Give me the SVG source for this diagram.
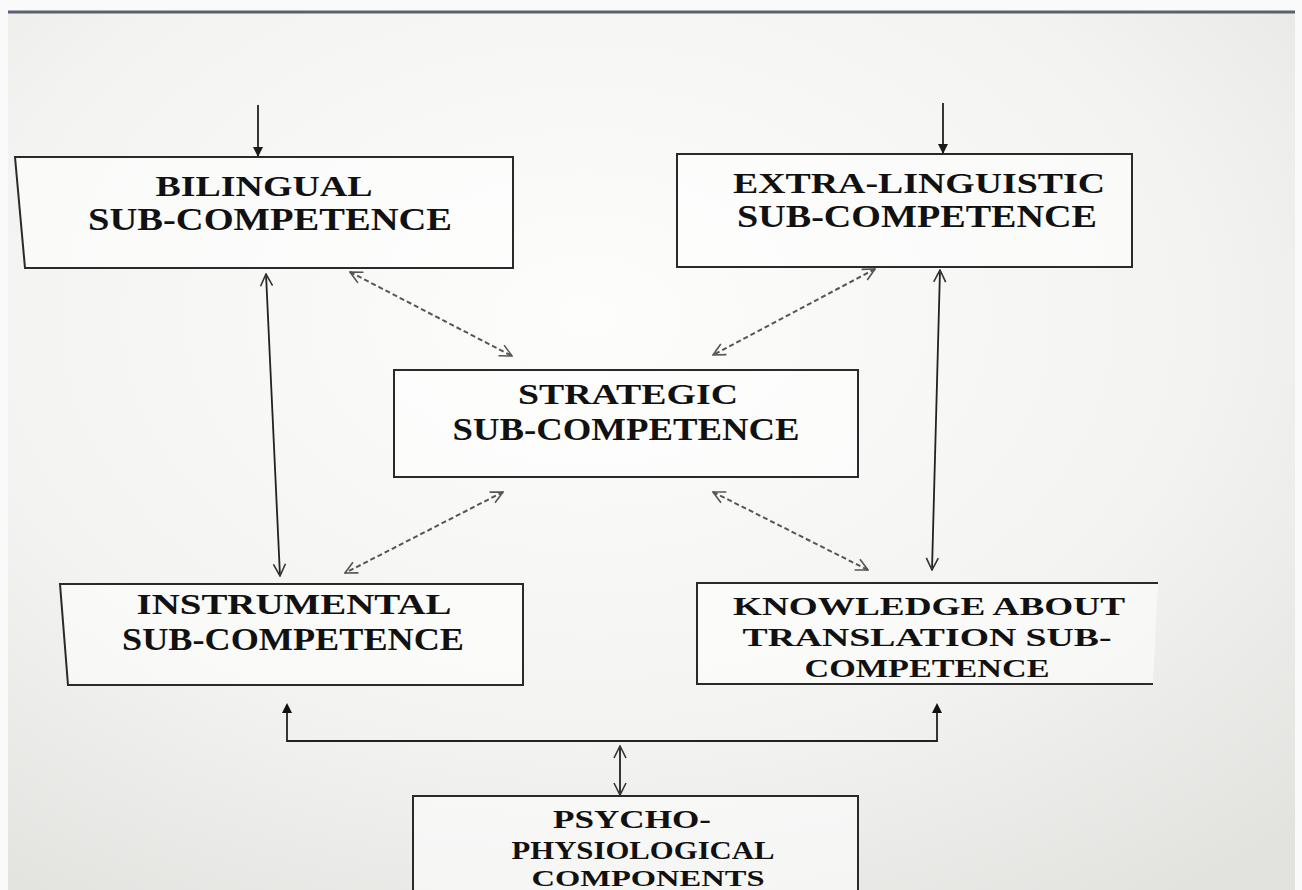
<svg xmlns="http://www.w3.org/2000/svg" width="1302" height="890" viewBox="0 0 1302 890">
<defs>
<radialGradient id="bg" cx="0.45" cy="0.35" r="0.8">
<stop offset="0" stop-color="#fdfdfc"/>
<stop offset="0.6" stop-color="#f3f3f1"/>
<stop offset="1" stop-color="#e2e2df"/>
</radialGradient>
<marker id="solid" viewBox="0 0 10 10" refX="9" refY="5" markerWidth="10" markerHeight="10" markerUnits="userSpaceOnUse" orient="auto">
<path d="M0,0 L10,5 L0,10 Z" fill="#1a1a1a"/>
</marker>
<marker id="open" viewBox="0 0 14 14" refX="13" refY="7" markerWidth="14" markerHeight="14" markerUnits="userSpaceOnUse" orient="auto-start-reverse">
<path d="M1,1 L13,7 L1,13" fill="none" stroke="#333" stroke-width="1.6"/>
</marker>
<marker id="openg" viewBox="0 0 14 14" refX="13" refY="7" markerWidth="14" markerHeight="14" markerUnits="userSpaceOnUse" orient="auto-start-reverse">
<path d="M1,1 L13,7 L1,13" fill="none" stroke="#555" stroke-width="1.6"/>
</marker>
</defs>
<style>
.box{fill:#ffffff;fill-opacity:0.55;stroke:#2a2a2a;stroke-width:2}
.t{font-family:"Liberation Serif","Times New Roman",serif;font-weight:bold;fill:#111;text-anchor:middle}
.c{stroke:#222;stroke-width:1.8;fill:none}
.d{stroke:#555;stroke-width:2;fill:none;stroke-dasharray:5 3}
</style>
<rect x="0" y="0" width="1302" height="890" fill="#fafafa"/>
<rect x="8" y="12" width="1287" height="878" fill="url(#bg)"/>
<line x1="8" y1="12" x2="1295" y2="12" stroke="#5a6070" stroke-width="3"/>

<g id="connectors">
<line class="c" x1="258" y1="105" x2="258" y2="156" marker-end="url(#solid)"/>
<line class="c" x1="943" y1="103" x2="943" y2="153" marker-end="url(#solid)"/>
<line class="c" x1="266" y1="274" x2="280" y2="576" marker-start="url(#open)" marker-end="url(#open)"/>
<line class="c" x1="940" y1="270" x2="932" y2="570" marker-start="url(#open)" marker-end="url(#open)"/>
<line class="d" x1="350" y1="272" x2="512" y2="356" marker-start="url(#openg)" marker-end="url(#openg)"/>
<line class="d" x1="875" y1="269" x2="713" y2="355" marker-start="url(#openg)" marker-end="url(#openg)"/>
<line class="d" x1="503" y1="492" x2="345" y2="573" marker-start="url(#openg)" marker-end="url(#openg)"/>
<line class="d" x1="713" y1="492" x2="868" y2="570" marker-start="url(#openg)" marker-end="url(#openg)"/>
<polyline class="c" points="287,705 287,741 937,741 937,705"/>
<path d="M282,713 L287,703 L292,713 Z" fill="#111"/>
<path d="M932,713 L937,703 L942,713 Z" fill="#111"/>
<line class="c" x1="620" y1="746" x2="620" y2="795" stroke="#444" marker-start="url(#open)" marker-end="url(#open)"/>
</g>

<g id="bilingual">
<path class="box" d="M15,157 L513,157 L513,268 L25,268 Z"/>
<text class="t" x="264" y="196" font-size="29" textLength="217" lengthAdjust="spacingAndGlyphs">BILINGUAL</text>
<text class="t" x="270" y="230" font-size="31" textLength="364" lengthAdjust="spacingAndGlyphs">SUB-COMPETENCE</text>
</g>

<g id="extralinguistic">
<rect class="box" x="677" y="154" width="455" height="113"/>
<text class="t" x="919" y="193" font-size="29" textLength="372" lengthAdjust="spacingAndGlyphs">EXTRA-LINGUISTIC</text>
<text class="t" x="917" y="227" font-size="31" textLength="360" lengthAdjust="spacingAndGlyphs">SUB-COMPETENCE</text>
</g>

<g id="strategic">
<rect class="box" x="394" y="370" width="464" height="107"/>
<text class="t" x="628" y="404" font-size="29" textLength="220" lengthAdjust="spacingAndGlyphs">STRATEGIC</text>
<text class="t" x="626" y="440" font-size="31" textLength="347" lengthAdjust="spacingAndGlyphs">SUB-COMPETENCE</text>
</g>

<g id="instrumental">
<path class="box" d="M60,584 L523,584 L523,685 L68,685 Z"/>
<text class="t" x="294" y="614" font-size="29" textLength="315" lengthAdjust="spacingAndGlyphs">INSTRUMENTAL</text>
<text class="t" x="293" y="650" font-size="31" textLength="342" lengthAdjust="spacingAndGlyphs">SUB-COMPETENCE</text>
</g>

<g id="knowledge">
<path class="box" d="M1158,583 L697,583 L697,684 L1153,684"/>
<text class="t" x="929" y="615" font-size="26" textLength="392" lengthAdjust="spacingAndGlyphs">KNOWLEDGE  ABOUT</text>
<text class="t" x="927" y="646" font-size="26" textLength="369" lengthAdjust="spacingAndGlyphs">TRANSLATION SUB-</text>
<text class="t" x="927" y="677" font-size="25" textLength="245" lengthAdjust="spacingAndGlyphs">COMPETENCE</text>
</g>

<g id="psychophysiological">
<path class="box" d="M413,892 L413,796 L858,796 L858,892"/>
<text class="t" x="632" y="828" font-size="26" textLength="158" lengthAdjust="spacingAndGlyphs">PSYCHO-</text>
<text class="t" x="643" y="859" font-size="26" textLength="263" lengthAdjust="spacingAndGlyphs">PHYSIOLOGICAL</text>
<text class="t" x="648" y="886" font-size="24" textLength="233" lengthAdjust="spacingAndGlyphs">COMPONENTS</text>
</g>
</svg>
